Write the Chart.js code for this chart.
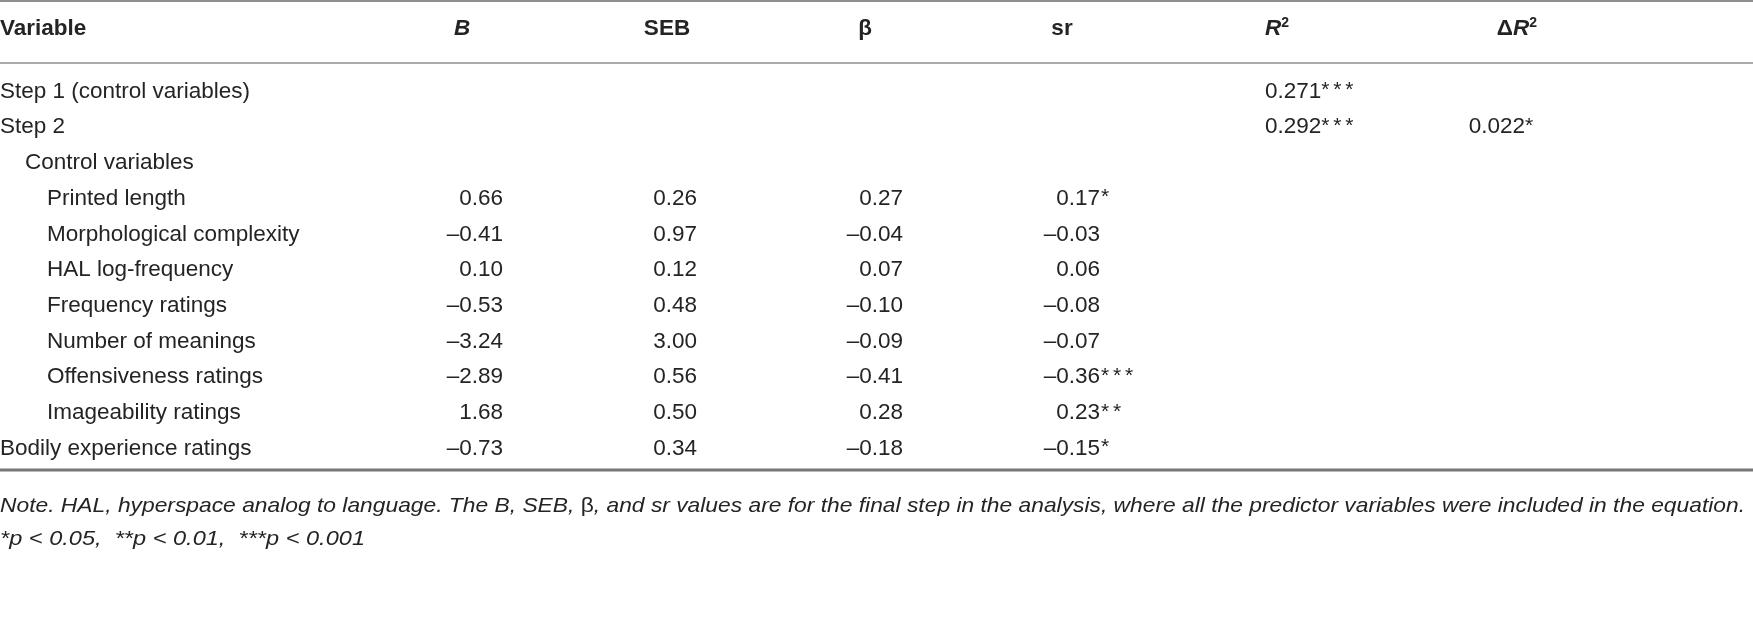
<!DOCTYPE html>
<html><head><meta charset="utf-8">
<script src="https://cdn.jsdelivr.net/npm/chart.js@4.4.1/dist/chart.umd.min.js"></script>
<style>html,body{margin:0;padding:0;background:#fff;overflow:hidden}#wrap{width:1753px;height:617px;position:relative}</style>
</head><body><div id="wrap"><canvas id="c" width="1753" height="617" style="width:1753px;height:617px"></canvas></div>
<script>
// ---------- DATA ----------
const headers = ['Variable', 'B', 'SEB', 'β', 'sr', 'R2', 'ΔR2'];
const rowLabels = ['Step 1 (control variables)', 'Step 2', 'Control variables', 'Printed length',
  'Morphological complexity', 'HAL log-frequency', 'Frequency ratings', 'Number of meanings',
  'Offensiveness ratings', 'Imageability ratings', 'Bodily experience ratings'];
const rowLevel = [0, 0, 1, 2, 2, 2, 2, 2, 2, 2, 0];
const bValues    = [null, null, null, 0.66, -0.41, 0.10, -0.53, -3.24, -2.89, 1.68, -0.73];
const sebValues  = [null, null, null, 0.26, 0.97, 0.12, 0.48, 3.00, 0.56, 0.50, 0.34];
const betaValues = [null, null, null, 0.27, -0.04, 0.07, -0.10, -0.09, -0.41, 0.28, -0.18];
const srValues   = [null, null, null, 0.17, -0.03, 0.06, -0.08, -0.07, -0.36, 0.23, -0.15];
const srStars    = ['', '', '', '*', '', '', '', '', '***', '**', '*'];
const r2Values   = [0.271, 0.292, null, null, null, null, null, null, null, null, null];
const r2Stars    = ['***', '***', '', '', '', '', '', '', '', '', ''];
const dR2Values  = [null, 0.022, null, null, null, null, null, null, null, null, null];
const dR2Stars   = ['', '*', '', '', '', '', '', '', '', '', ''];
const noteLine1 = ['Note. HAL, hyperspace analog to language. The B, SEB, ', 'β', ', and sr values are for the final step in the analysis, where all the predictor variables were included in the equation.'];
const noteLine2 = '*p < 0.05,  **p < 0.01,  ***p < 0.001';

// ---------- LAYOUT (styles / positions, not data) ----------
const FAM = '"Liberation Sans", Arial, sans-serif';
const TXT = '#262324';
const L = {
  colX: { label: 0, b: 503, seb: 697, beta: 903, sr: 1100, r2: 1265, dr2: 1537 },
  headX: { variable: 0, b: 462, seb: 667, beta: 865, sr: 1062, r2: 1265, dr2: 1537 },
  indent: [0, 25, 47],
  headerRow: -1.75,
  rules: [{ v: -2.54, w: 2.5, c: '#8f8f8f' }, { v: -0.80, w: 1.5, c: '#8f8f8f' }, { v: 10.6, w: 3, c: '#777777' }],
  noteRows: [11.62, 12.55],
  noteWidth: [1745, 365],
  font: '22.5px ' + FAM,
  starFont: '21px ' + FAM,
  starStep: 12,
  bold: 'bold 22.5px ' + FAM,
  italic: 'italic 21px ' + FAM
};

function fmt(v, d) { return (v < 0 ? '\u2013' : '') + Math.abs(v).toFixed(d); }

function series(name, values, x, extra) {
  const data = [];
  values.forEach((v, i) => { if (v !== null && v !== undefined) data.push({ x: x, y: i, v: v, i: i }); });
  return Object.assign({ label: name, data: data, pointRadius: 0, showLine: false }, extra);
}

const datasets = [
  series('Variable', rowLabels, L.colX.label, { kind: 'label' }),
  series('B', bValues, L.colX.b, { kind: 'right', dec: 2 }),
  series('SEB', sebValues, L.colX.seb, { kind: 'right', dec: 2 }),
  series('β', betaValues, L.colX.beta, { kind: 'right', dec: 2 }),
  series('sr', srValues, L.colX.sr, { kind: 'hang', dec: 2, stars: srStars }),
  series('R2', r2Values, L.colX.r2, { kind: 'left', dec: 3, stars: r2Stars }),
  series('ΔR2', dR2Values, L.colX.dr2, { kind: 'rightAll', dec: 3, stars: dR2Stars })
];

function runsWidth(ctx, runs) {
  let w = 0;
  runs.forEach(r => { ctx.font = r.font; w += (r.w !== undefined ? r.w : ctx.measureText(r.t).width); });
  return w;
}
function starRuns(st) {
  return st.split('').map(s => ({ t: s, font: L.starFont, w: L.starStep, dy: -1 }));
}
function drawRuns(ctx, runs, x, y, align, targetW) {
  const w = runsWidth(ctx, runs);
  const sx = targetW ? targetW / w : 1;
  const tw = w * sx;
  const x0 = align === 'right' ? x - tw : align === 'center' ? x - tw / 2 : x;
  ctx.save();
  ctx.translate(x0, y);
  ctx.scale(sx, 1);
  ctx.textAlign = 'left';
  ctx.textBaseline = 'middle';
  ctx.fillStyle = TXT;
  let cx = 0;
  runs.forEach(r => {
    ctx.font = r.font;
    ctx.fillText(r.t, cx, r.dy || 0);
    cx += (r.w !== undefined ? r.w : ctx.measureText(r.t).width);
  });
  ctx.restore();
}

const tablePlugin = {
  id: 'tablePlugin',
  afterDatasetsDraw(chart) {
    const ctx = chart.ctx;
    const xs = chart.scales.x, ys = chart.scales.y;
    L.rules.forEach(r => {
      const y = ys.getPixelForValue(r.v);
      ctx.save(); ctx.strokeStyle = r.c; ctx.lineWidth = r.w;
      ctx.beginPath(); ctx.moveTo(xs.left, y); ctx.lineTo(xs.right, y); ctx.stroke(); ctx.restore();
    });
    const hy = ys.getPixelForValue(L.headerRow);
    const bi = 'italic bold 22.5px ' + FAM, sup = 'bold 14px ' + FAM;
    drawRuns(ctx, [{ t: headers[0], font: L.bold }], xs.getPixelForValue(L.headX.variable), hy, 'left');
    drawRuns(ctx, [{ t: headers[1], font: bi }], xs.getPixelForValue(L.headX.b), hy, 'center');
    drawRuns(ctx, [{ t: headers[2], font: L.bold }], xs.getPixelForValue(L.headX.seb), hy, 'center');
    drawRuns(ctx, [{ t: headers[3], font: L.bold }], xs.getPixelForValue(L.headX.beta), hy, 'center');
    drawRuns(ctx, [{ t: headers[4], font: L.bold }], xs.getPixelForValue(L.headX.sr), hy, 'center');
    drawRuns(ctx, [{ t: headers[5][0], font: bi }, { t: headers[5].slice(1), font: sup, dy: -6 }], xs.getPixelForValue(L.headX.r2), hy, 'left');
    drawRuns(ctx, [{ t: headers[6][0], font: L.bold }, { t: headers[6][1], font: bi }, { t: headers[6].slice(2), font: sup, dy: -6 }], xs.getPixelForValue(L.headX.dr2), hy, 'right');
    chart.data.datasets.forEach((ds, di) => {
      const meta = chart.getDatasetMeta(di);
      meta.data.forEach((el, k) => {
        const raw = ds.data[k];
        const x = el.x, y = el.y;
        if (ds.kind === 'label') {
          drawRuns(ctx, [{ t: raw.v, font: L.font }], x + L.indent[rowLevel[raw.i]], y, 'left');
          return;
        }
        const num = fmt(raw.v, ds.dec);
        const st = ds.stars ? ds.stars[raw.i] : '';
        if (ds.kind === 'right') {
          drawRuns(ctx, [{ t: num, font: L.font }], x, y, 'right');
        } else if (ds.kind === 'hang') {
          drawRuns(ctx, [{ t: num, font: L.font }], x, y, 'right');
          if (st) drawRuns(ctx, starRuns(st), x + 1, y, 'left');
        } else if (ds.kind === 'left') {
          drawRuns(ctx, [{ t: num, font: L.font }].concat(starRuns(st)), x, y, 'left');
        } else {
          drawRuns(ctx, [{ t: num, font: L.font }].concat(starRuns(st)), x, y, 'right');
        }
      });
    });
    const n1 = ys.getPixelForValue(L.noteRows[0]), n2 = ys.getPixelForValue(L.noteRows[1]);
    drawRuns(ctx, [{ t: noteLine1[0], font: L.italic }, { t: noteLine1[1], font: '21px ' + FAM }, { t: noteLine1[2], font: L.italic }], xs.left, n1, 'left', L.noteWidth[0]);
    drawRuns(ctx, [{ t: noteLine2, font: L.italic }], xs.left, n2, 'left', L.noteWidth[1]);
  }
};

const ROW = 35.7, FIRST = 91.5;
new Chart(document.getElementById('c'), {
  type: 'scatter',
  data: { datasets: datasets },
  options: {
    responsive: false, animation: false, events: [],
    layout: { padding: 0 },
    plugins: { legend: { display: false }, tooltip: { enabled: false } },
    scales: {
      x: { type: 'linear', min: 0, max: 1753, display: false },
      y: { type: 'linear', reverse: true, min: -FIRST / ROW, max: (617 - FIRST) / ROW, display: false }
    }
  },
  plugins: [tablePlugin]
});
</script></body></html>
